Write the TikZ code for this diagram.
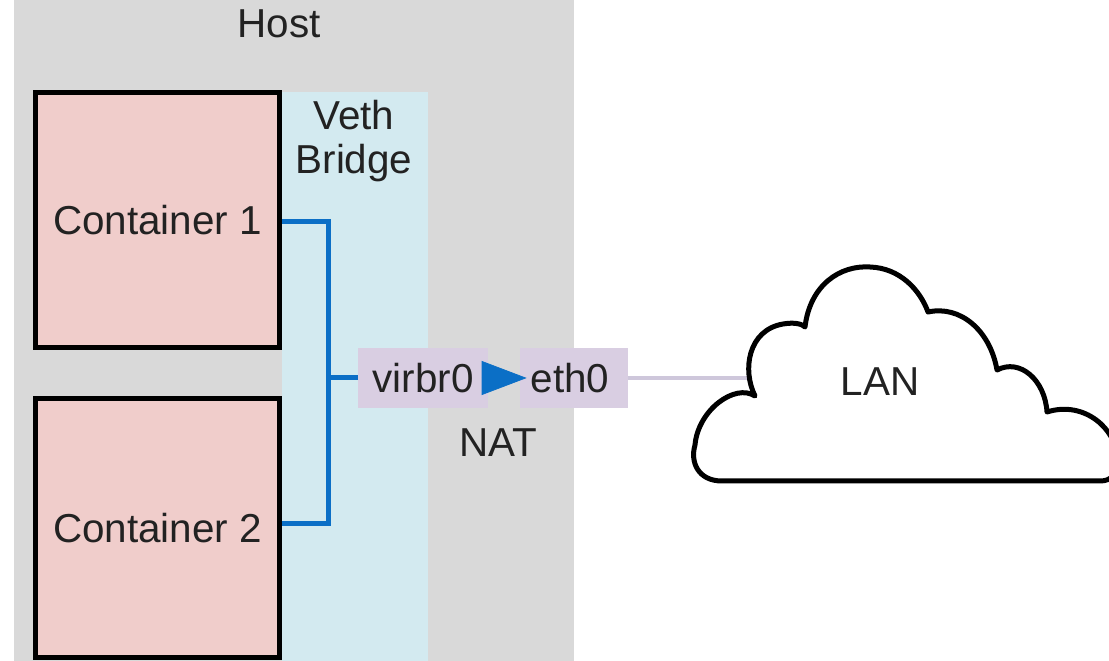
\documentclass[tikz,border=0pt]{standalone}
\usepackage{fontspec}
\setmainfont{Liberation Sans}
\usetikzlibrary{fit,arrows.meta}
\definecolor{hostgray}{HTML}{D9D9D9}
\definecolor{contpink}{HTML}{F0CDCB}
\definecolor{bridgeblue}{HTML}{D3EAF0}
\definecolor{ifpurple}{HTML}{D9CEE2}
\definecolor{linkblue}{HTML}{0B6FC6}
\definecolor{lanline}{HTML}{CEC7DB}
\definecolor{txt}{HTML}{222222}
\tikzset{
  lbl/.style={text=txt, font=\fontsize{23}{27}\selectfont, align=center, inner sep=0pt},
  region/.style={inner sep=0pt, draw=none},
  contbox/.style={lbl, draw=black, line width=0.1cm, fill=contpink, minimum width=4.9cm},
  ifbox/.style={lbl, fill=ifpurple, minimum height=1.2cm},
  wire/.style={draw=linkblue, line width=0.1cm},
}
\begin{document}
\begin{tikzpicture}[x=0.02cm, y=-0.02cm]
\useasboundingbox (0,0) rectangle (1109,661);
\fill[white] (0,0) rectangle (1109,661);
% host area
\node[region, fill=hostgray, fit={(14,-20) (574,690)}] (host) {};
\node[lbl] (hostlbl) at (279,24) {Host};
% bridge area
\node[region, fill=bridgeblue, fit={(282,92) (428,690)}] (bridge) {};
\node[lbl] (bridgelbl) at (354,141) {Veth\\[-2pt]Bridge};
% containers
\node[contbox, minimum height=5.12cm] (c1) at (157.5,220) {Container 1};
\node[contbox, minimum height=5.2cm] (c2) at (157.5,528) {Container 2};
% interfaces
\node[ifbox, minimum width=2.6cm] (virbr) at (423,378) {virbr0};
\node[ifbox, minimum width=2.16cm] (eth) at (574,378) {eth0\hspace{0.16cm}};
\node[lbl] (nat) at (498,443) {NAT};
% bridge wiring
\coordinate (j1) at (328,222);
\coordinate (j2) at (328,524);
\coordinate (j3) at (328,378);
\draw[wire] (c1.east |- j1) -- (j1) -- (j2) -- (c2.east |- j2);
\draw[wire] (j3) -- (virbr.west);
% NAT arrow
\draw[draw=linkblue, line width=0.4pt, -{Triangle[length=0.9cm,width=0.68cm]}, fill=linkblue]
  ([xshift=-0.12cm]virbr.east) -- ([xshift=0.14cm]eth.west);
% cloud
\coordinate (cloudw) at (749,378);
\draw[lanline, line width=0.08cm] (eth.east) -- (cloudw);
\draw[black, fill=white, line width=0.1cm, line join=round]
  (722,481) .. controls (698,481) and (690,462) .. (695,445)
  .. controls (698,410) and (735,383) .. (755,396)
  .. controls (742,370) and (748,330) .. (783,324)
  .. controls (795,322) and (802,324) .. (805,327)
  .. controls (810,285) and (840,265) .. (870,267)
  .. controls (900,268) and (920,290) .. (928,312)
  .. controls (960,305) and (990,330) .. (997,370)
  .. controls (1020,358) and (1045,380) .. (1047,412)
  .. controls (1085,400) and (1117,430) .. (1117,458)
  .. controls (1117,474) and (1112,481) .. (1100,481)
  -- cycle;
\node[lbl] (lan) at (880,382) {LAN};
\end{tikzpicture}
\end{document}
